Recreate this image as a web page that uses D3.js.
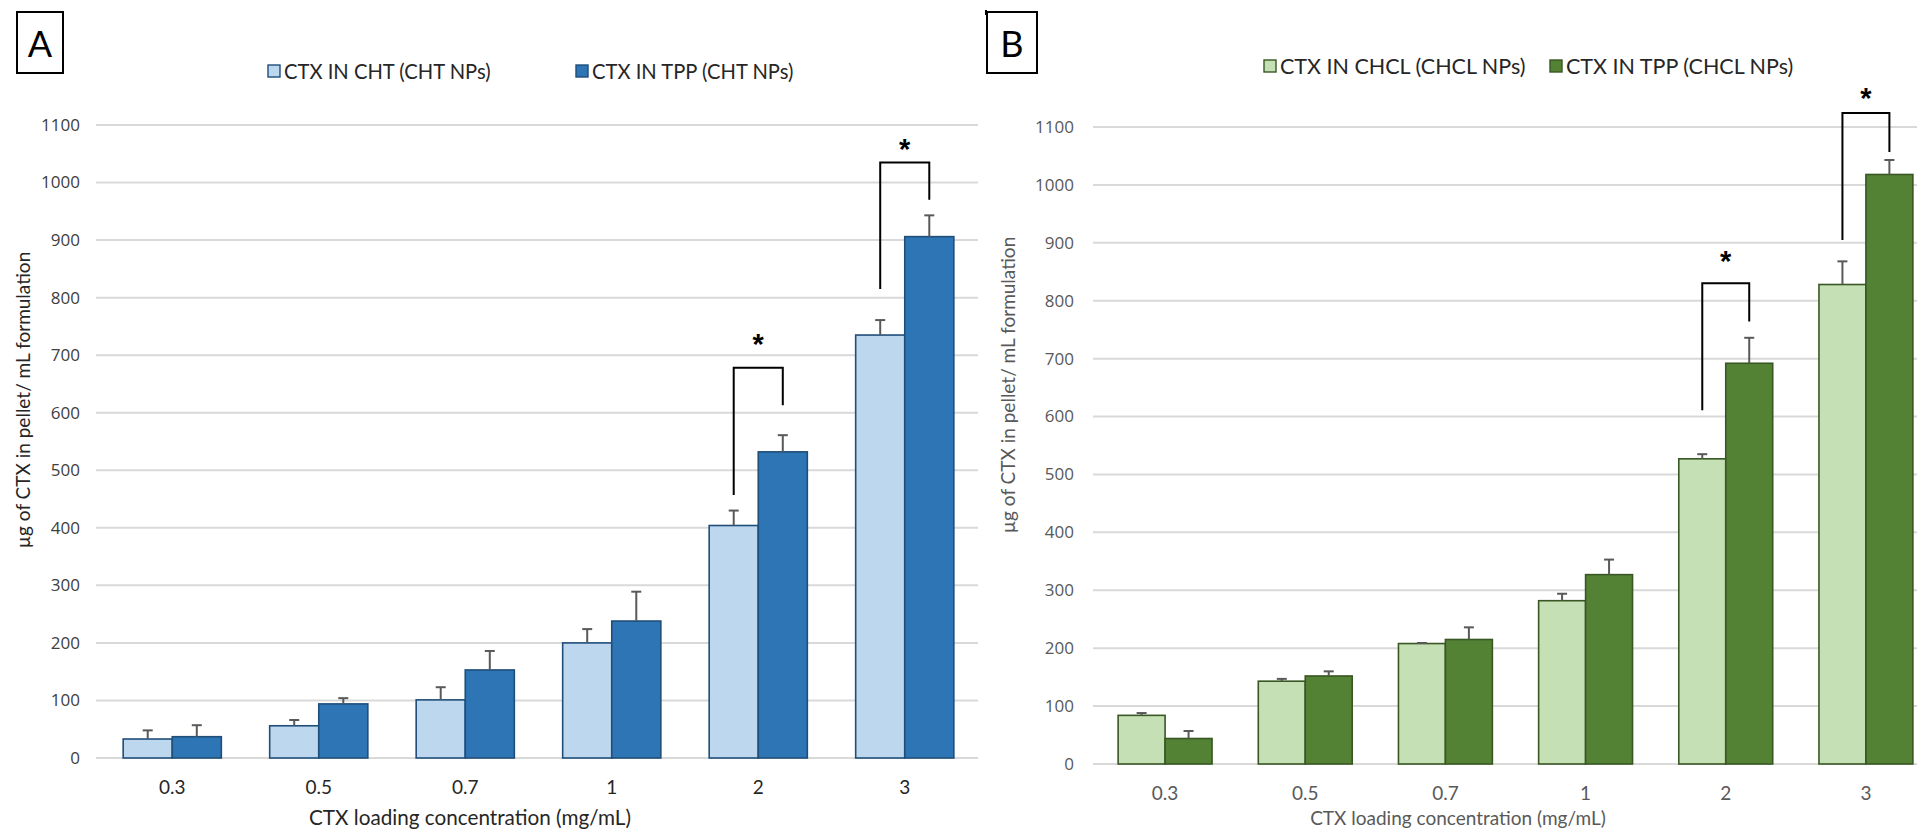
<!DOCTYPE html>
<html>
<head>
<meta charset="utf-8">
<script src="https://cdn.jsdelivr.net/npm/d3@7"></script>
<style>
  html, body { margin: 0; padding: 0; background: #fff; overflow: hidden; }
  svg { display: block; }
</style>
</head>
<body>
<svg id="chart" width="1917" height="835"></svg>
<script>
// Loading concentrations (mg/mL) shared by both panels
const categories = ["0.3", "0.5", "0.7", "1", "2", "3"];
const yTickValues = [0, 100, 200, 300, 400, 500, 600, 700, 800, 900, 1000, 1100];

// Panel A: chitosan nanoparticles (µg CTX / mL), mean and SD
const ctxInCht      = [33, 56, 101, 200, 404, 735];
const ctxInChtSd    = [15, 10, 22, 24, 26, 26];
const ctxInTppCht   = [37, 94, 153, 238, 532, 906];
const ctxInTppChtSd = [20, 10, 33, 51, 29, 37];

// Panel B: chitosan HCl nanoparticles (µg CTX / mL), mean and SD
const ctxInChcl      = [84, 143, 208, 282, 527, 828];
const ctxInChclSd    = [4, 4, 1, 12, 8, 40];
const ctxInTppChcl   = [44, 152, 215, 327, 692, 1018];
const ctxInTppChclSd = [13, 8, 21, 26, 44, 25];

// Significance brackets: leg ends, bracket top and asterisk level in data units
const sigA = [
  { cat: "2", left: 457, right: 613, top: 678, star: 730 },
  { cat: "3", left: 815, right: 970, top: 1035, star: 1069 }
];
const sigB = [
  { cat: "2", left: 611, right: 764, top: 830, star: 879 },
  { cat: "3", left: 905, right: 1057, top: 1124, star: 1160 }
];

const seriesNamesA = ["CTX IN CHT (CHT NPs)", "CTX IN TPP (CHT NPs)"];
const seriesNamesB = ["CTX IN CHCL (CHCL NPs)", "CTX IN TPP (CHCL NPs)"];

const svg = d3.select("#chart");
const textFont = "Lato, 'Liberation Sans', sans-serif";
const tickFont = "'Open Sans', 'Noto Sans', sans-serif";

function drawPanel(cfg) {
  const g = svg.append("g");

  const x = d3.scaleBand().domain(categories)
    .range([cfg.x0, cfg.x1]).paddingInner(0.33).paddingOuter(0.165);
  const xs = d3.scaleBand().domain([0, 1]).range([0, x.bandwidth()]);
  const y = d3.scaleLinear().domain([0, 1100]).range([cfg.yBottom, cfg.yTop]);

  // horizontal gridlines
  g.append("g").selectAll("line").data(yTickValues).join("line")
    .attr("x1", cfg.gx0).attr("x2", cfg.gx1)
    .attr("y1", d => y(d)).attr("y2", d => y(d))
    .attr("stroke", "#d9d9d9").attr("stroke-width", 2);

  // y axis labels
  const yAxis = g.append("g")
    .attr("transform", `translate(${cfg.yLabelRight},0)`)
    .call(d3.axisLeft(y).tickValues(yTickValues).tickFormat(d3.format("d"))
      .tickSize(0).tickPadding(0));
  yAxis.select(".domain").remove();
  yAxis.selectAll("text")
    .attr("font-family", tickFont).attr("font-size", 17)
    .attr("fill", cfg.yTickColor);

  // x axis labels
  const xAxis = g.append("g")
    .attr("transform", `translate(0,${cfg.yBottom})`)
    .call(d3.axisBottom(x).tickSize(0).tickPadding(cfg.xTickPad));
  xAxis.select(".domain").remove();
  xAxis.selectAll("text")
    .attr("font-family", textFont).attr("font-size", 19)
    .attr("fill", cfg.xTickColor);

  // bars
  const series = [
    { vals: cfg.s1, sd: cfg.s1sd, fill: cfg.fill1 },
    { vals: cfg.s2, sd: cfg.s2sd, fill: cfg.fill2 }
  ];
  series.forEach((s, si) => {
    const rows = categories.map((c, i) => ({ c, v: s.vals[i], e: s.sd[i] }));
    g.append("g").selectAll("rect").data(rows).join("rect")
      .attr("x", d => x(d.c) + xs(si))
      .attr("y", d => y(d.v))
      .attr("width", xs.bandwidth())
      .attr("height", d => y(0) - y(d.v))
      .attr("fill", s.fill)
      .attr("stroke", cfg.stroke).attr("stroke-width", 1.6);

    // positive error bars
    const eg = g.append("g").attr("stroke", "#595959").attr("stroke-width", 2);
    const cx = d => x(d.c) + xs(si) + xs.bandwidth() / 2;
    eg.selectAll("line.v").data(rows).join("line").attr("class", "v")
      .attr("x1", cx).attr("x2", cx)
      .attr("y1", d => y(d.v)).attr("y2", d => y(d.v + d.e));
    eg.selectAll("line.c").data(rows).join("line").attr("class", "c")
      .attr("x1", d => cx(d) - 5).attr("x2", d => cx(d) + 5)
      .attr("y1", d => y(d.v + d.e)).attr("y2", d => y(d.v + d.e));
  });

  // significance brackets
  const sg = g.append("g");
  cfg.sig.forEach(b => {
    const lx = x(b.cat) + xs(0) + xs.bandwidth() / 2;
    const rx = x(b.cat) + xs(1) + xs.bandwidth() / 2;
    sg.append("path")
      .attr("d", d3.line()([[lx, y(b.left)], [lx, y(b.top)], [rx, y(b.top)], [rx, y(b.right)]]))
      .attr("fill", "none").attr("stroke", "#000").attr("stroke-width", 2);
    sg.append("text")
      .attr("x", (lx + rx) / 2).attr("y", y(b.star) + 16)
      .attr("text-anchor", "middle")
      .attr("font-family", "'Liberation Sans', sans-serif")
      .attr("font-size", 29).attr("font-weight", "bold")
      .text("*");
  });

  // axis titles
  g.append("text")
    .attr("transform", `translate(${cfg.yTitleX},${cfg.yTitleY}) rotate(-90)`)
    .attr("text-anchor", "middle").attr("dominant-baseline", "central")
    .attr("font-family", textFont).attr("font-size", 19).attr("fill", cfg.titleColor)
    .text("µg of CTX in pellet/ mL formulation");
  g.append("text")
    .attr("x", cfg.xTitleX).attr("y", cfg.xTitleY)
    .attr("text-anchor", "middle").attr("dominant-baseline", "central")
    .attr("font-family", textFont).attr("font-size", cfg.xTitleSize).attr("fill", cfg.titleColor)
    .text("CTX loading concentration (mg/mL)");

  // legend
  const lg = g.append("g");
  cfg.names.forEach((name, i) => {
    const lx = cfg.legendX[i];
    lg.append("rect")
      .attr("x", lx).attr("y", cfg.legendY - 6).attr("width", 12).attr("height", 12)
      .attr("fill", i === 0 ? cfg.fill1 : cfg.fill2)
      .attr("stroke", cfg.stroke).attr("stroke-width", 1.4);
    lg.append("text")
      .attr("x", lx + 16).attr("y", cfg.legendY)
      .attr("dominant-baseline", "central")
      .attr("font-family", textFont).attr("font-size", cfg.legendSize).attr("fill", "#262626")
      .text(name);
  });

  // panel letter in a box
  g.append("rect")
    .attr("x", cfg.box[0]).attr("y", cfg.box[1])
    .attr("width", cfg.box[2]).attr("height", cfg.box[3])
    .attr("fill", "none").attr("stroke", "#000").attr("stroke-width", 2);
  g.append("text")
    .attr("x", cfg.box[0] + cfg.box[2] / 2).attr("y", cfg.box[1] + cfg.box[3] / 2)
    .attr("text-anchor", "middle").attr("dominant-baseline", "central")
    .attr("font-family", textFont).attr("font-size", 36).attr("fill", "#000")
    .text(cfg.letter);
  return g;
}

drawPanel({
  letter: "A", box: [17, 12, 46, 61],
  x0: 99, x1: 978, gx0: 96, gx1: 978,
  yBottom: 758, yTop: 125,
  yLabelRight: 80, xTickPad: 23,
  yTitleX: 22, yTitleY: 400, xTitleX: 470, xTitleY: 817, xTitleSize: 20.7,
  s1: ctxInCht, s1sd: ctxInChtSd, s2: ctxInTppCht, s2sd: ctxInTppChtSd,
  fill1: "#bdd7ee", fill2: "#2e75b6", stroke: "#1f4e79",
  yTickColor: "#404040", xTickColor: "#262626", titleColor: "#262626",
  sig: sigA, names: seriesNamesA,
  legendX: [268, 576], legendY: 71, legendSize: 20.2
});

const panelB = drawPanel({
  letter: "B", box: [987, 12, 50, 61],
  x0: 1095, x1: 1936, gx0: 1093, gx1: 1917,
  yBottom: 764, yTop: 127,
  yLabelRight: 1074, xTickPad: 23,
  yTitleX: 1007, yTitleY: 385, xTitleX: 1458, xTitleY: 817, xTitleSize: 19,
  s1: ctxInChcl, s1sd: ctxInChclSd, s2: ctxInTppChcl, s2sd: ctxInTppChclSd,
  fill1: "#c5e0b4", fill2: "#548235", stroke: "#385723",
  yTickColor: "#595959", xTickColor: "#595959", titleColor: "#595959",
  sig: sigB, names: seriesNamesB,
  legendX: [1264, 1550], legendY: 66, legendSize: 21.5
});

// small notch at the top-left corner of the B frame
panelB.append("line")
  .attr("x1", 986).attr("x2", 986).attr("y1", 10).attr("y2", 15)
  .attr("stroke", "#000").attr("stroke-width", 2);
</script>
</body>
</html>
